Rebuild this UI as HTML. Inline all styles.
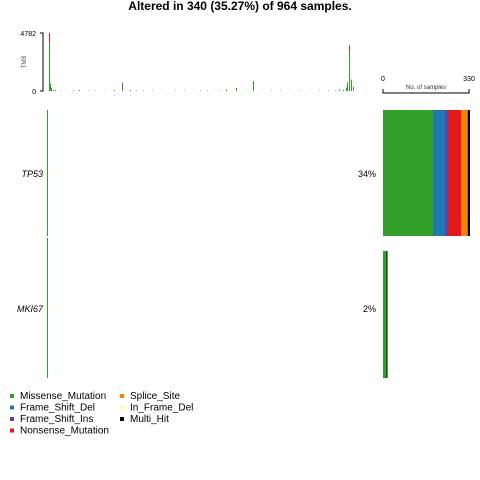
<!DOCTYPE html>
<html><head><meta charset="utf-8"><style>
body{margin:0;background:#fff;width:480px;height:480px;overflow:hidden}
svg{display:block;font-family:"Liberation Sans",sans-serif}
rect{shape-rendering:crispEdges}
</style></head><body>
<svg id="c" width="480" height="480" xmlns="http://www.w3.org/2000/svg">
<text x="240" y="10" text-anchor="middle" font-size="12" font-weight="bold">Altered in 340 (35.27%) of 964 samples.</text>
<g id="tmb"></g>
<g id="grid"></g>
<g id="side"></g>
<g id="legend"></g>
</svg>
<script>
const nSamples = 964;
const tmbMax = 4782;
const tmbIdx = [5, 9, 13, 18, 24, 40, 60, 80, 100, 130, 150, 180, 210, 235, 260, 280, 300, 330, 360, 400, 430, 460, 480, 500, 520, 540, 560, 590, 620, 645, 670, 700, 730, 760, 790, 820, 850, 880, 900, 915, 925, 935, 940, 945, 950, 953, 957];
const tmbMis = [3900, 600, 300, 100, 80, 60, 60, 60, 80, 60, 60, 60, 70, 700, 100, 60, 60, 60, 60, 60, 60, 60, 60, 60, 60, 60, 120, 250, 60, 835, 60, 60, 60, 60, 60, 60, 60, 60, 60, 150, 100, 300, 700, 3300, 950, 700, 350];
const tmbNon = [880, 0, 0, 0, 0, 0, 0, 0, 0, 0, 0, 0, 0, 0, 0, 0, 0, 0, 0, 0, 0, 0, 0, 0, 0, 0, 0, 0, 0, 0, 0, 0, 0, 0, 0, 0, 0, 0, 0, 0, 0, 0, 0, 460, 0, 0, 0];
const genes = ["TP53", "MKI67"];
const pcts = ["34%", "2%"];
const types = ["Missense_Mutation", "Frame_Shift_Del", "Frame_Shift_Ins", "Nonsense_Mutation", "Splice_Site", "In_Frame_Del", "Multi_Hit"];
const typeColors = ["#33a02c", "#1f78b4", "#6a3d9a", "#e31a1c", "#ff7f00", "#ffff99", "#000000"];
const tp53Counts = [192, 45, 13, 49, 24, 2, 8];
const mki67Counts = [14, 0, 0, 0, 0, 0, 2];
const sideMax = 330;

const NS = "http://www.w3.org/2000/svg";
function mk(tag, attrs, parent){const e=document.createElementNS(NS,tag);for(const k in attrs)e.setAttribute(k,attrs[k]);parent.appendChild(e);return e;}
const xS = i => Math.round(47 + i * (308 / nSamples));
const yT = v => 91 - v / tmbMax * 58;
const tmb = document.getElementById('tmb');
let ax = mk('path',{d:"M40 33H43V91H40",stroke:"#000",fill:"none"},tmb);


let t1 = mk('text',{x:36,y:36,"text-anchor":"end","font-size":"7"},tmb); t1.textContent="4782";


let t0 = mk('text',{x:36,y:94,"text-anchor":"end","font-size":"7"},tmb); t0.textContent="0";


let tl = mk('text',{x:26,y:62,"text-anchor":"middle","font-size":"6",fill:"#555",transform:"rotate(-90 26 62)"},tmb); tl.textContent="TMB";


tmbIdx.forEach((idx,k)=>{
  const x = xS(idx);
  const m = mk('rect',{x:x,y:yT(tmbMis[k]),width:1,height:91-yT(tmbMis[k]),fill:"#33a02c"},tmb);
  
  
  if(tmbNon[k]>0){
    const top = tmbMis[k]+tmbNon[k];
    const n = mk('rect',{x:x,y:yT(top),width:1,height:yT(tmbMis[k])-yT(top),fill:"#e31a1c"},tmb);
    
    
  }
});
const grid = document.getElementById('grid');
const rowY = [110, 238], rowH = [126, 140];
genes.forEach((g,i)=>{
  const l = mk('rect',{x:47,y:rowY[i],width:1,height:rowH[i],fill:"#33a02c"},grid);
  
  
  const tx = mk('text',{x:43,y:rowY[i]+rowH[i]/2+4,"text-anchor":"end","font-size":"9","font-style":"italic"},grid);
  tx.textContent=g;
  
  
  const p = mk('text',{x:376,y:rowY[i]+rowH[i]/2+4,"text-anchor":"end","font-size":"9"},grid);
  p.textContent=pcts[i];
  
  
});
const side = document.getElementById('side');
const xB = v => 383 + v / sideMax * 86;
let sa = mk('path',{d:"M383 89V93H469V89",stroke:"#000",fill:"none"},side);


let s0 = mk('text',{x:383,y:81,"text-anchor":"middle","font-size":"7"},side); s0.textContent="0";


let s1 = mk('text',{x:469,y:81,"text-anchor":"middle","font-size":"7"},side); s1.textContent="330";


let st = mk('text',{x:426,y:89,"text-anchor":"middle","font-size":"6",fill:"#333"},side); st.textContent="No. of samples";


[[tp53Counts,110,126],[mki67Counts,251,127]].forEach(([cnt,y,h],gi)=>{
  let acc=0;
  cnt.forEach((c,k)=>{
    if(c<=0)return;
    const r = mk('rect',{x:xB(acc),y:y,width:Math.max(1,xB(acc+c)-xB(acc)),height:h,fill:typeColors[k]},side);
    
    
    acc+=c;
  });
});
const lg = document.getElementById('legend');
types.forEach((t,k)=>{
  const col = k<4?0:1, row = k<4?k:k-4;
  const x = col?120:10, y = 394+row*11.5;
  const sq = mk('rect',{x:x,y:y,width:4,height:4,fill:typeColors[k]},lg);
  
  
  const tx = mk('text',{x:x+10,y:y+5,"font-size":"10"},lg);
  tx.textContent=t;
  
  
});
</script>
</body></html>
